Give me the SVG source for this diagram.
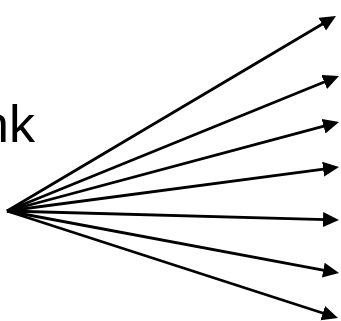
<svg xmlns="http://www.w3.org/2000/svg" width="341" height="321" viewBox="0 0 341 321">
<style>
.c line{stroke:#000;stroke-width:2.8;marker-end:url(#ah)}
.t{font-family:"Liberation Sans",Arial,sans-serif;font-size:52px;fill:#000}
</style>
<defs>
<marker id="ah" markerUnits="userSpaceOnUse" markerWidth="17" markerHeight="16" refX="12" refY="7.5" orient="auto">
<path d="M0,0 L16,7.5 L0,15 z" fill="#000"/>
</marker>
</defs>
<rect width="341" height="321" fill="#fff"/>
<g id="label"><text class="t" x="35" y="142" text-anchor="end">nk</text></g>
<g id="connectors" class="c">
<line x1="7" y1="211" x2="332.56" y2="18.04"/>
<line x1="7" y1="211" x2="335.3" y2="77.51"/>
<line x1="7" y1="211" x2="335.14" y2="123.04"/>
<line x1="7" y1="211" x2="335.04" y2="167.53"/>
<line x1="7" y1="211" x2="335" y2="219.89"/>
<line x1="7" y1="211" x2="335.07" y2="272.27"/>
<line x1="7" y1="211" x2="334.19" y2="316.77"/>
</g>
</svg>
